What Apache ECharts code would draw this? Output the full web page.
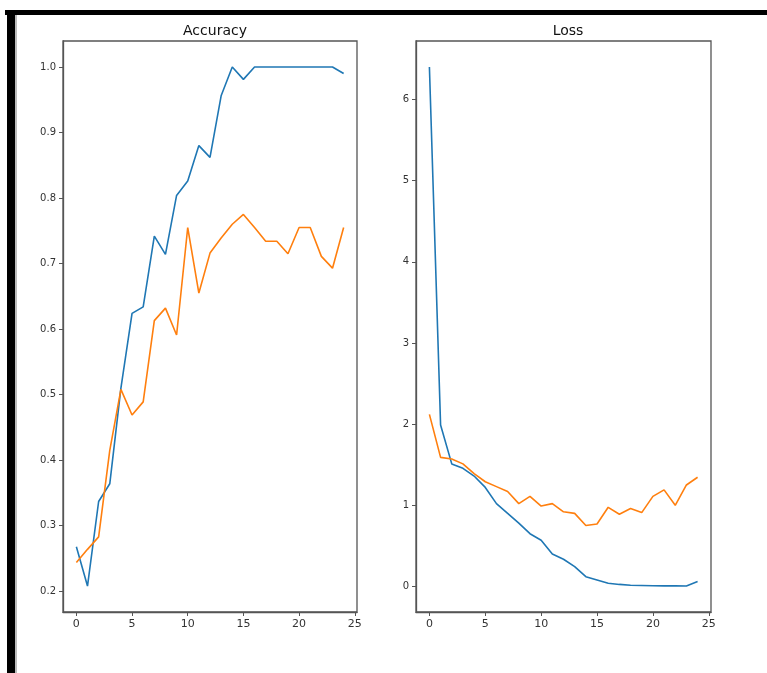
<!DOCTYPE html>
<html><head><meta charset="utf-8">
<script src="https://cdn.jsdelivr.net/npm/echarts@6/dist/echarts.min.js"></script>
<style>html,body{margin:0;padding:0;background:#fff}#c{width:767px;height:673px}</style>
</head><body><div id="c"></div>
<script>
const epochs = [0,1,2,3,4,5,6,7,8,9,10,11,12,13,14,15,16,17,18,19,20,21,22,23,24];
const accTrain = [0.268,0.208,0.337,0.364,0.51,0.624,0.634,0.742,0.714,0.804,0.826,0.880,0.862,0.956,1.0,0.981,1.0,1.0,1.0,1.0,1.0,1.0,1.0,1.0,0.990];
const accVal = [0.244,0.264,0.283,0.415,0.508,0.469,0.489,0.613,0.632,0.591,0.755,0.655,0.716,0.739,0.760,0.775,0.755,0.734,0.734,0.715,0.755,0.755,0.711,0.693,0.755];
const lossTrain = [6.40,1.99,1.51,1.455,1.36,1.22,1.02,0.90,0.78,0.65,0.57,0.40,0.335,0.245,0.12,0.08,0.04,0.025,0.015,0.012,0.008,0.007,0.008,0.005,0.06];
const lossVal = [2.12,1.59,1.57,1.51,1.39,1.29,1.23,1.17,1.02,1.11,0.99,1.02,0.92,0.90,0.75,0.77,0.975,0.89,0.96,0.91,1.11,1.19,1.00,1.25,1.345];
const xTicks = [0,5,10,15,20,25];
const accTicks = [0.2,0.3,0.4,0.5,0.6,0.7,0.8,0.9,1.0];
const lossTicks = [0,1,2,3,4,5,6];
const titles = ['Accuracy','Loss'];

function pad(arrs){
  let lo=Infinity,hi=-Infinity;
  arrs.forEach(a=>a.forEach(v=>{lo=Math.min(lo,v);hi=Math.max(hi,v);}));
  const m=(hi-lo)*0.05; return [lo-m,hi+m];
}
const xr = pad([epochs]);
const ar = pad([accTrain,accVal]);
const lr = pad([lossTrain,lossVal]);
const txt = {color:'#333',fontFamily:'DejaVu Sans'};
const spine = {show:true,onZero:false,lineStyle:{color:'#555',width:1.3}};
function xAxis(i){
  return {type:'value',gridIndex:i,min:xr[0],max:xr[1],splitLine:{show:false},
    axisLine:spine,axisTick:{show:true,length:4,customValues:xTicks,lineStyle:{color:'#555'}},
    axisLabel:Object.assign({customValues:xTicks,fontSize:11,margin:7},txt)};
}
function yAxis(i,r,ticks,fmt){
  return {type:'value',gridIndex:i,min:r[0],max:r[1],splitLine:{show:false},
    axisLine:spine,axisTick:{show:true,length:4,customValues:ticks,lineStyle:{color:'#555'}},
    axisLabel:Object.assign({customValues:ticks,fontSize:10,margin:7,formatter:fmt},txt)};
}
function line(i,data,color){
  return {type:'line',xAxisIndex:i,yAxisIndex:i,symbol:'none',
    data:epochs.map((e,k)=>[e,data[k]]),lineStyle:{color:color,width:1.6},itemStyle:{color:color}};
}
const chart = echarts.init(document.getElementById('c'),null,{renderer:'canvas'});
chart.setOption({
  animation:false,
  backgroundColor:'#fff',
  title:[
    {text:titles[0],left:210,top:19,textAlign:'center',textStyle:{fontSize:14,fontWeight:'normal',color:'#111',fontFamily:'DejaVu Sans'}},
    {text:titles[1],left:563,top:19,textAlign:'center',textStyle:{fontSize:14,fontWeight:'normal',color:'#111',fontFamily:'DejaVu Sans'}}
  ],
  grid:[
    {left:63,top:41,width:294,height:571,show:true,borderColor:'#555',borderWidth:1.3,backgroundColor:'#fff'},
    {left:416,top:41,width:295,height:571,show:true,borderColor:'#555',borderWidth:1.3,backgroundColor:'#fff'}
  ],
  xAxis:[xAxis(0),xAxis(1)],
  yAxis:[yAxis(0,ar,accTicks,v=>v.toFixed(1)),yAxis(1,lr,lossTicks,v=>String(Math.round(v)))],
  series:[line(0,accTrain,'#1f77b4'),line(0,accVal,'#ff7f0e'),line(1,lossTrain,'#1f77b4'),line(1,lossVal,'#ff7f0e')],
  graphic:[
    {type:'rect',shape:{x:5,y:10,width:762,height:5},style:{fill:'#000'}},
    {type:'rect',shape:{x:7,y:10,width:8,height:663},style:{fill:'#000'}},
    {type:'rect',shape:{x:15,y:15,width:2,height:658},style:{fill:'#bbb'}}
  ]
});
</script></body></html>
